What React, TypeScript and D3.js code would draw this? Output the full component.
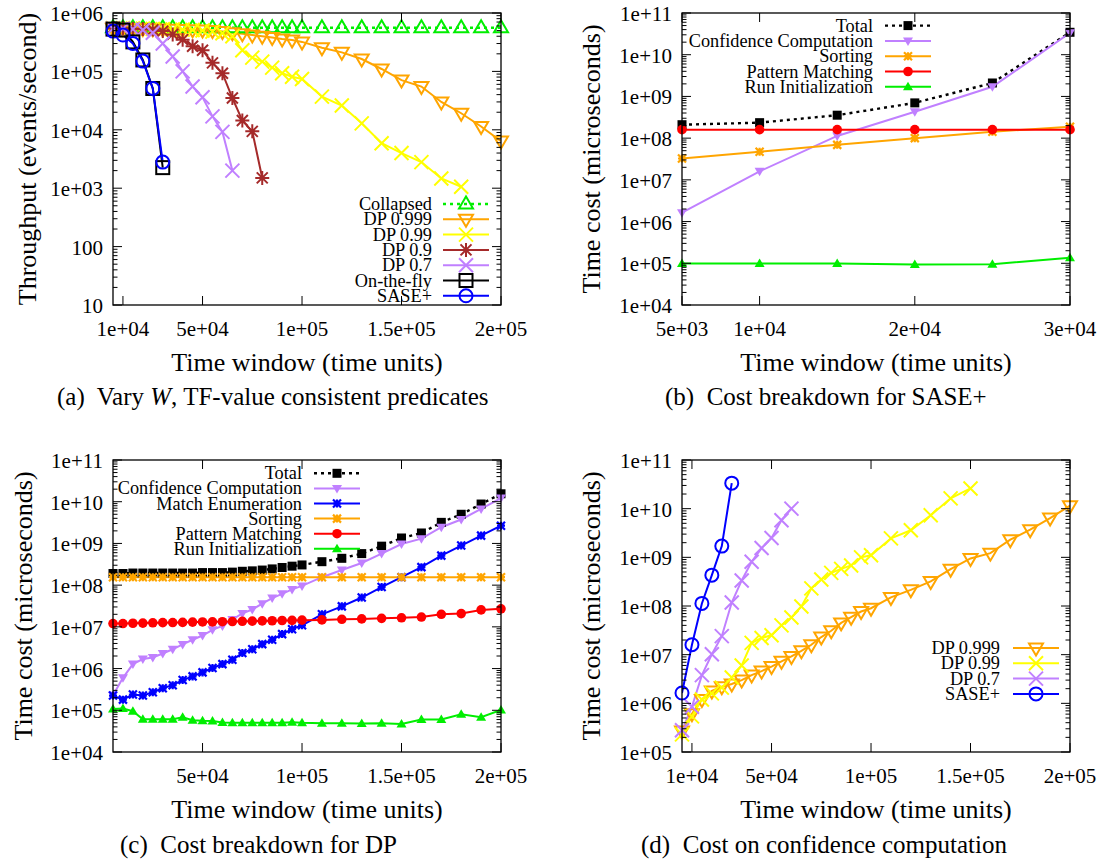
import React from "react";
import * as d3 from "d3";

// ---------- time windows (x values) ----------
const WINDOWS = [
  5000, 10000, 15000, 20000, 25000, 30000, 35000, 40000, 45000, 50000,
  55000, 60000, 65000, 70000, 75000, 80000, 85000, 90000, 95000, 100000,
  110000, 120000, 130000, 140000, 150000, 160000, 170000, 180000, 190000, 200000,
];
const WINDOWS_SASE = [5000, 10000, 15000, 20000, 25000, 30000];

// ---------- (a) throughput, events/second ----------
const thrCollapsed = [
  560000, 560000, 560000, 560000, 560000, 560000, 560000, 560000, 560000, 560000,
  560000, 560000, 560000, 560000, 560000, 560000, 560000, 560000, 560000, 560000,
  560000, 560000, 560000, 560000, 560000, 560000, 560000, 560000, 560000, 560000,
];
const thrDP999 = [
  550000, 550000, 545000, 540000, 535000, 530000, 525000, 520000, 515000, 510000,
  500000, 480000, 460000, 440000, 420000, 400000, 380000, 360000, 345000, 320000,
  255000, 212000, 163000, 110000, 71000, 55000, 30000, 19200, 11400, 6400,
];
const thrDP99 = [
  550000, 550000, 545000, 540000, 535000, 530000, 525000, 520000, 510000, 500000,
  480000, 450000, 400000, 230000, 172000, 147000, 116000, 93000, 81000, 74000,
  37000, 26000, 12900, 5900, 4000, 2800, 1470, 1060,
];
const thrDP9 = [
  550000, 550000, 540000, 530000, 520000, 490000, 430000, 350000, 270000, 230000,
  140000, 93000, 35000, 14400, 9400, 1500,
];
const thrDP7 = [
  540000, 540000, 530000, 510000, 460000, 300000, 180000, 100000, 55000, 36000,
  17000, 9200, 2000,
];
const thrOnTheFly = [530000, 510000, 320000, 157000, 51000, 2250];
const thrSase = [490000, 420000, 300000, 150000, 51000, 2800];

// ---------- (b) SASE+ cost breakdown, microseconds ----------
const saseTotal = [2.1e8, 2.35e8, 3.55e8, 7.0e8, 2.1e9, 3.45e10];
const saseConfidence = [1.63e6, 1.6e7, 1.13e8, 4.3e8, 1.7e9, 3.34e10];
const saseSorting = [3.25e7, 4.7e7, 6.9e7, 1.0e8, 1.42e8, 1.88e8];
const saseMatching = [1.6e8, 1.6e8, 1.6e8, 1.6e8, 1.6e8, 1.6e8];
const saseRunInit = [9.9e4, 9.9e4, 9.9e4, 9.4e4, 9.5e4, 1.35e5];

// ---------- (c) DP cost breakdown, microseconds ----------
const dpTotal = [
  1.9e8, 1.9e8, 1.95e8, 1.95e8, 1.95e8, 1.95e8, 1.95e8, 1.95e8, 1.95e8, 2.0e8,
  2.0e8, 2.0e8, 2.05e8, 2.15e8, 2.2e8, 2.3e8, 2.45e8, 2.65e8, 2.85e8, 3.05e8,
  3.65e8, 4.4e8, 5.7e8, 8.6e8, 1.35e9, 1.78e9, 3.2e9, 5.0e9, 8.8e9, 1.55e10,
];
const dpConfidence = [
  2.3e5, 6.0e5, 1.28e6, 1.69e6, 1.85e6, 2.3e6, 2.9e6, 3.8e6, 4.9e6, 6.2e6,
  8.5e6, 1.05e7, 1.5e7, 2.1e7, 2.6e7, 3.6e7, 4.9e7, 6.2e7, 7.9e7, 9.6e7,
  1.55e8, 2.3e8, 3.4e8, 5.7e8, 9.7e8, 1.3e9, 2.45e9, 3.75e9, 6.7e9, 1.22e10,
];
const dpEnumeration = [
  2.25e5, 1.8e5, 2.38e5, 2.25e5, 2.7e5, 3.37e5, 4.0e5, 5.3e5, 6.5e5, 8.1e5,
  1.03e6, 1.28e6, 1.62e6, 2.35e6, 2.9e6, 3.85e6, 4.9e6, 6.7e6, 8.8e6, 1.09e7,
  2.0e7, 3.1e7, 5.05e7, 9.0e7, 1.55e8, 2.7e8, 5.1e8, 8.9e8, 1.54e9, 2.66e9,
];
const dpSorting = [
  1.55e8, 1.55e8, 1.55e8, 1.55e8, 1.55e8, 1.55e8, 1.55e8, 1.55e8, 1.55e8, 1.55e8,
  1.55e8, 1.55e8, 1.55e8, 1.55e8, 1.55e8, 1.55e8, 1.55e8, 1.55e8, 1.55e8, 1.55e8,
  1.55e8, 1.55e8, 1.55e8, 1.55e8, 1.55e8, 1.55e8, 1.55e8, 1.55e8, 1.55e8, 1.55e8,
];
const dpMatching = [
  1.2e7, 1.2e7, 1.22e7, 1.23e7, 1.25e7, 1.26e7, 1.27e7, 1.28e7, 1.3e7, 1.31e7,
  1.32e7, 1.33e7, 1.34e7, 1.36e7, 1.37e7, 1.39e7, 1.4e7, 1.42e7, 1.43e7, 1.45e7,
  1.47e7, 1.52e7, 1.55e7, 1.6e7, 1.65e7, 1.72e7, 2.0e7, 2.08e7, 2.55e7, 2.7e7,
];
const dpRunInit = [
  1.08e5, 1.1e5, 9.5e4, 6.1e4, 6.1e4, 6.1e4, 6.1e4, 6.8e4, 5.8e4, 5.6e4,
  5.5e4, 5.1e4, 5.0e4, 5.0e4, 5.0e4, 5.0e4, 5.0e4, 5.0e4, 5.2e4, 5.0e4,
  4.9e4, 4.9e4, 4.8e4, 4.9e4, 4.7e4, 6.0e4, 6.0e4, 8.0e4, 6.8e4, 1.02e5,
];

// ---------- (d) confidence computation cost, microseconds ----------
const confDP999 = [
  2.7e5, 6.1e5, 1.2e6, 1.8e6, 2.2e6, 2.5e6, 3.0e6, 3.8e6, 4.6e6, 5.7e6,
  7.3e6, 9.2e6, 1.2e7, 1.6e7, 2.3e7, 3.1e7, 4.5e7, 5.9e7, 7.7e7, 9.0e7,
  1.5e8, 2.15e8, 3.2e8, 5.7e8, 9.5e8, 1.22e9, 2.3e9, 3.7e9, 6.4e9, 1.15e10,
];
const confDP99 = [
  2.3e5, 5.4e5, 1.2e6, 1.6e6, 2.1e6, 3.4e6, 6.0e6, 1.75e7, 2.2e7, 2.5e7,
  4.0e7, 5.8e7, 9.8e7, 2.3e8, 3.5e8, 4.8e8, 5.8e8, 6.8e8, 1.0e9, 1.1e9,
  2.45e9, 3.6e9, 7.3e9, 1.63e10, 2.6e10,
];
const confDP7 = [
  2.8e5, 8.5e5, 3.8e6, 1.02e7, 2.4e7, 1.18e8, 3.35e8, 8.1e8, 1.55e9, 2.5e9,
  5.8e9, 1.0e10,
];
const confSase = [1.63e6, 1.6e7, 1.13e8, 4.3e8, 1.7e9, 3.34e10];

// ---------- axis ticks ----------
const TICKS_W = [10000, 50000, 100000, 150000, 200000];
const LABELS_W = ["1e+04", "5e+04", "1e+05", "1.5e+05", "2e+05"];
const TICKS_W_SASE = [5000, 10000, 20000, 30000];
const LABELS_W_SASE = ["5e+03", "1e+04", "2e+04", "3e+04"];
const TICKS_W_DP = [50000, 100000, 150000, 200000];
const LABELS_W_DP = ["5e+04", "1e+05", "1.5e+05", "2e+05"];
const TICKS_THR = [10, 100, 1000, 10000, 100000, 1000000];
const LABELS_THR = ["10", "100", "1e+03", "1e+04", "1e+05", "1e+06"];
const TICKS_COST = [1e4, 1e5, 1e6, 1e7, 1e8, 1e9, 1e10, 1e11];
const LABELS_COST = ["1e+04", "1e+05", "1e+06", "1e+07", "1e+08", "1e+09", "1e+10", "1e+11"];
const TICKS_CONF = [1e5, 1e6, 1e7, 1e8, 1e9, 1e10, 1e11];
const LABELS_CONF = ["1e+05", "1e+06", "1e+07", "1e+08", "1e+09", "1e+10", "1e+11"];

// ---------- colours ----------
const GREEN = "#00ee00";
const ORANGE = "#ffa500";
const YELLOW = "#ffff00";
const BROWN = "#a52a2a";
const PURPLE = "#c080ff";
const BLUE = "#0000ff";
const RED = "#ff0000";
const BLACK = "#000000";

const FONT = "'Liberation Serif', 'Times New Roman', Times, serif";

type MarkerKind =
  | "openTriUp"
  | "openTriDown"
  | "cross"
  | "star"
  | "openSquare"
  | "openCircle"
  | "fillSquare"
  | "fillTriDown"
  | "fillTriUp"
  | "fillCircle"
  | "smallStar";

type Series = {
  label: string;
  xs: number[];
  ys: number[];
  color: string;
  marker: MarkerKind;
  dotted?: boolean;
};

type Box = { x0: number; y0: number; x1: number; y1: number };

type LegendSpec = { textRight: number; lineX0: number; lineX1: number; y0: number; step: number };

type PanelSpec = {
  id: string;
  box: Box;
  xDomain: [number, number];
  yDomain: [number, number];
  xTicks: number[];
  xLabels: string[];
  yTicks: number[];
  yLabels: string[];
  yTitle: string;
  yTitleX: number;
  series: Series[];
  legend: LegendSpec;
};

function Marker({ kind, x, y, color }: { kind: MarkerKind; x: number; y: number; color: string }) {
  const sw = 2;
  switch (kind) {
    case "openTriUp":
      return (
        <polygon
          points={`${x},${y - 7.5} ${x - 7},${y + 4.5} ${x + 7},${y + 4.5}`}
          fill="none" stroke={color} strokeWidth={sw} strokeLinejoin="miter"
        />
      );
    case "openTriDown":
      return (
        <polygon
          points={`${x},${y + 7.5} ${x - 7},${y - 4.5} ${x + 7},${y - 4.5}`}
          fill="none" stroke={color} strokeWidth={sw} strokeLinejoin="miter"
        />
      );
    case "cross": {
      const h = 7;
      return (
        <path d={`M${x - h},${y - h}L${x + h},${y + h}M${x - h},${y + h}L${x + h},${y - h}`}
          stroke={color} strokeWidth={sw} fill="none" />
      );
    }
    case "star": {
      const h = 7;
      const d = 5.5;
      return (
        <path
          d={`M${x - h},${y}L${x + h},${y}M${x},${y - h}L${x},${y + h}M${x - d},${y - d}L${x + d},${y + d}M${x - d},${y + d}L${x + d},${y - d}`}
          stroke={color} strokeWidth={sw} fill="none" />
      );
    }
    case "openSquare":
      return <rect x={x - 6.5} y={y - 6.5} width={13} height={13} fill="none" stroke={color} strokeWidth={sw} />;
    case "openCircle":
      return <circle cx={x} cy={y} r={6.5} fill="none" stroke={color} strokeWidth={sw} />;
    case "fillSquare":
      return <rect x={x - 4.5} y={y - 4.5} width={9} height={9} fill={color} />;
    case "fillTriDown":
      return <polygon points={`${x},${y + 5} ${x - 5},${y - 3.5} ${x + 5},${y - 3.5}`} fill={color} />;
    case "fillTriUp":
      return <polygon points={`${x},${y - 5} ${x - 5},${y + 3.5} ${x + 5},${y + 3.5}`} fill={color} />;
    case "fillCircle":
      return <circle cx={x} cy={y} r={4.8} fill={color} />;
    case "smallStar": {
      const h = 4;
      return (
        <path
          d={`M${x - h},${y}L${x + h},${y}M${x},${y - h}L${x},${y + h}M${x - h},${y - h}L${x + h},${y + h}M${x - h},${y + h}L${x + h},${y - h}`}
          stroke={color} strokeWidth={2.2} fill="none" />
      );
    }
  }
  return null;
}

function logMinorTicks(domain: [number, number]): number[] {
  const out: number[] = [];
  const lo = Math.floor(Math.log10(domain[0]));
  const hi = Math.ceil(Math.log10(domain[1]));
  for (let e = lo; e < hi; e++) {
    for (let k = 2; k <= 9; k++) {
      const v = k * Math.pow(10, e);
      if (v > domain[0] && v < domain[1]) out.push(v);
    }
  }
  return out;
}

function Panel({ spec }: { spec: PanelSpec }) {
  const { box } = spec;
  const x = d3.scaleLinear().domain(spec.xDomain).range([box.x0, box.x1]);
  const y = d3.scaleLog().domain(spec.yDomain).range([box.y1, box.y0]);
  const line = d3
    .line<[number, number]>()
    .x((d) => x(d[0]))
    .y((d) => y(d[1]));
  const major = 9;
  const minor = 4.5;
  const minors = logMinorTicks(spec.yDomain);
  const tickPaths: string[] = [];
  spec.xTicks.forEach((t) => {
    const px = x(t);
    tickPaths.push(`M${px},${box.y1}V${box.y1 - major}M${px},${box.y0}V${box.y0 + major}`);
  });
  spec.yTicks.forEach((t) => {
    const py = y(t);
    tickPaths.push(`M${box.x0},${py}H${box.x0 + major}M${box.x1},${py}H${box.x1 - major}`);
  });
  minors.forEach((t) => {
    const py = y(t);
    tickPaths.push(`M${box.x0},${py}H${box.x0 + minor}M${box.x1},${py}H${box.x1 - minor}`);
  });
  const clipId = `clip-${spec.id}`;
  const cy = (box.y0 + box.y1) / 2;
  const cx = (box.x0 + box.x1) / 2;
  const lg = spec.legend;

  return (
    <g>
      <defs>
        <clipPath id={clipId}>
          <rect x={box.x0} y={box.y0} width={box.x1 - box.x0} height={box.y1 - box.y0} />
        </clipPath>
      </defs>
      {/* series lines */}
      <g clipPath={`url(#${clipId})`}>
        {spec.series.map((s) => (
          <path
            key={`l-${s.label}`}
            d={line(s.ys.map((v, i) => [s.xs[i], v] as [number, number])) || ""}
            fill="none"
            stroke={s.color}
            strokeWidth={s.dotted ? 2.4 : 2}
            strokeDasharray={s.dotted ? "3,4" : undefined}
          />
        ))}
      </g>
      {/* series markers */}
      {spec.series.map((s) => (
        <g key={`m-${s.label}`}>
          {s.ys.map((v, i) => (
            <Marker key={i} kind={s.marker} x={x(s.xs[i])} y={y(v)} color={s.color} />
          ))}
        </g>
      ))}
      {/* frame and ticks */}
      <path d={tickPaths.join("")} stroke="#000" strokeWidth={1} fill="none" />
      <rect x={box.x0} y={box.y0} width={box.x1 - box.x0} height={box.y1 - box.y0} fill="none" stroke="#000" strokeWidth={1.3} />
      {/* tick labels */}
      {spec.xTicks.map((t, i) => (
        <text key={`xt-${t}`} x={x(t)} y={box.y1 + 31} textAnchor="middle" fontSize={21} fontFamily={FONT}>
          {spec.xLabels[i]}
        </text>
      ))}
      {spec.yTicks.map((t, i) => (
        <text key={`yt-${t}`} x={box.x0 - 10} y={y(t) + 8} textAnchor="end" fontSize={21} fontFamily={FONT}>
          {spec.yLabels[i]}
        </text>
      ))}
      {/* axis titles */}
      <text
        x={spec.yTitleX}
        y={cy}
        transform={`rotate(-90 ${spec.yTitleX} ${cy})`}
        textAnchor="middle"
        dominantBaseline="central"
        fontSize={26}
        fontFamily={FONT}
      >
        {spec.yTitle}
      </text>
      <text x={cx} y={box.y1 + 66} textAnchor="middle" fontSize={26} fontFamily={FONT}>
        Time window (time units)
      </text>
      {/* legend */}
      {spec.series.map((s, i) => {
        const ly = lg.y0 + i * lg.step;
        return (
          <g key={`lg-${s.label}`}>
            <text x={lg.textRight} y={ly} textAnchor="end" dominantBaseline="central" fontSize={18.3} fontFamily={FONT}>
              {s.label}
            </text>
            <line
              x1={lg.lineX0}
              x2={lg.lineX1}
              y1={ly}
              y2={ly}
              stroke={s.color}
              strokeWidth={s.dotted ? 2.4 : 2}
              strokeDasharray={s.dotted ? "3,4" : undefined}
            />
            <Marker kind={s.marker} x={(lg.lineX0 + lg.lineX1) / 2} y={ly} color={s.color} />
          </g>
        );
      })}
    </g>
  );
}

const BOX_A: Box = { x0: 113, y0: 13, x1: 501, y1: 305 };
const BOX_B: Box = { x0: 682, y0: 13, x1: 1070, y1: 305 };
const BOX_C: Box = { x0: 113, y0: 460, x1: 501, y1: 752 };
const BOX_D: Box = { x0: 682, y0: 460, x1: 1070, y1: 752 };

const panelA: PanelSpec = {
  id: "a",
  box: BOX_A,
  xDomain: [5000, 200000],
  yDomain: [10, 1e6],
  xTicks: TICKS_W,
  xLabels: LABELS_W,
  yTicks: TICKS_THR,
  yLabels: LABELS_THR,
  yTitle: "Throughput (events/second)",
  yTitleX: 27,
  series: [
    { label: "Collapsed", xs: WINDOWS, ys: thrCollapsed, color: GREEN, marker: "openTriUp", dotted: true },
    { label: "DP 0.999", xs: WINDOWS, ys: thrDP999, color: ORANGE, marker: "openTriDown" },
    { label: "DP 0.99", xs: WINDOWS, ys: thrDP99, color: YELLOW, marker: "cross" },
    { label: "DP 0.9", xs: WINDOWS, ys: thrDP9, color: BROWN, marker: "star" },
    { label: "DP 0.7", xs: WINDOWS, ys: thrDP7, color: PURPLE, marker: "cross" },
    { label: "On-the-fly", xs: WINDOWS_SASE, ys: thrOnTheFly, color: BLACK, marker: "openSquare" },
    { label: "SASE+", xs: WINDOWS_SASE, ys: thrSase, color: BLUE, marker: "openCircle" },
  ],
  legend: { textRight: 432, lineX0: 443, lineX1: 489, y0: 204, step: 15.3 },
};

const panelB: PanelSpec = {
  id: "b",
  box: BOX_B,
  xDomain: [5000, 30000],
  yDomain: [1e4, 1e11],
  xTicks: TICKS_W_SASE,
  xLabels: LABELS_W_SASE,
  yTicks: TICKS_COST,
  yLabels: LABELS_COST,
  yTitle: "Time cost (microseconds)",
  yTitleX: 591,
  series: [
    { label: "Total", xs: WINDOWS_SASE, ys: saseTotal, color: BLACK, marker: "fillSquare", dotted: true },
    { label: "Confidence Computation", xs: WINDOWS_SASE, ys: saseConfidence, color: PURPLE, marker: "fillTriDown" },
    { label: "Sorting", xs: WINDOWS_SASE, ys: saseSorting, color: ORANGE, marker: "smallStar" },
    { label: "Pattern Matching", xs: WINDOWS_SASE, ys: saseMatching, color: RED, marker: "fillCircle" },
    { label: "Run Initialization", xs: WINDOWS_SASE, ys: saseRunInit, color: GREEN, marker: "fillTriUp" },
  ],
  legend: { textRight: 873, lineX0: 885, lineX1: 931, y0: 25.6, step: 15.3 },
};

const panelC: PanelSpec = {
  id: "c",
  box: BOX_C,
  xDomain: [5000, 200000],
  yDomain: [1e4, 1e11],
  xTicks: TICKS_W_DP,
  xLabels: LABELS_W_DP,
  yTicks: TICKS_COST,
  yLabels: LABELS_COST,
  yTitle: "Time cost (microseconds)",
  yTitleX: 23,
  series: [
    { label: "Total", xs: WINDOWS, ys: dpTotal, color: BLACK, marker: "fillSquare", dotted: true },
    { label: "Confidence Computation", xs: WINDOWS, ys: dpConfidence, color: PURPLE, marker: "fillTriDown" },
    { label: "Match Enumeration", xs: WINDOWS, ys: dpEnumeration, color: BLUE, marker: "smallStar" },
    { label: "Sorting", xs: WINDOWS, ys: dpSorting, color: ORANGE, marker: "smallStar" },
    { label: "Pattern Matching", xs: WINDOWS, ys: dpMatching, color: RED, marker: "fillCircle" },
    { label: "Run Initialization", xs: WINDOWS, ys: dpRunInit, color: GREEN, marker: "fillTriUp" },
  ],
  legend: { textRight: 302, lineX0: 314, lineX1: 360, y0: 473.3, step: 15.1 },
};

const panelD: PanelSpec = {
  id: "d",
  box: BOX_D,
  xDomain: [5000, 200000],
  yDomain: [1e5, 1e11],
  xTicks: TICKS_W,
  xLabels: LABELS_W,
  yTicks: TICKS_CONF,
  yLabels: LABELS_CONF,
  yTitle: "Time cost (microseconds)",
  yTitleX: 591,
  series: [
    { label: "DP 0.999", xs: WINDOWS, ys: confDP999, color: ORANGE, marker: "openTriDown" },
    { label: "DP 0.99", xs: WINDOWS, ys: confDP99, color: YELLOW, marker: "cross" },
    { label: "DP 0.7", xs: WINDOWS, ys: confDP7, color: PURPLE, marker: "cross" },
    { label: "SASE+", xs: WINDOWS_SASE, ys: confSase, color: BLUE, marker: "openCircle" },
  ],
  legend: { textRight: 1000, lineX0: 1013, lineX1: 1059, y0: 648, step: 15.3 },
};

const captionStyle: React.CSSProperties = { whiteSpace: "pre" };

export default function App() {
  return (
    <svg
      width={1106}
      height={863}
      viewBox="0 0 1106 863"
      style={{ position: "absolute", left: 0, top: 0, background: "#fff" }}
    >
      <rect x={0} y={0} width={1106} height={863} fill="#fff" />
      <Panel spec={panelA} />
      <Panel spec={panelB} />
      <Panel spec={panelC} />
      <Panel spec={panelD} />
      <text x={57} y={405} fontSize={25} fontFamily={FONT} style={captionStyle}>
        {"(a)  Vary "}
        <tspan fontStyle="italic">W</tspan>
        {", TF-value consistent predicates"}
      </text>
      <text x={665} y={405} fontSize={25} fontFamily={FONT} style={captionStyle}>
        {"(b)  Cost breakdown for SASE+"}
      </text>
      <text x={120} y={853} fontSize={25} fontFamily={FONT} style={captionStyle}>
        {"(c)  Cost breakdown for DP"}
      </text>
      <text x={641} y={853} fontSize={25} fontFamily={FONT} style={captionStyle}>
        {"(d)  Cost on confidence computation"}
      </text>
    </svg>
  );
}
